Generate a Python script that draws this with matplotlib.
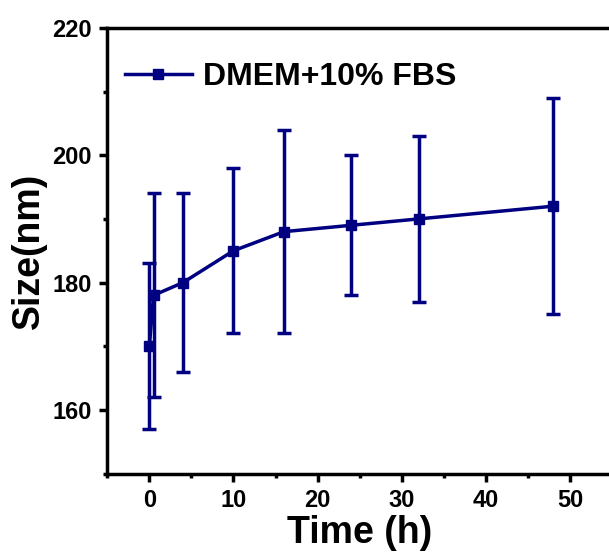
import matplotlib
matplotlib.use("Agg")
import matplotlib.pyplot as plt
from matplotlib.ticker import MultipleLocator

# data
time_h = [0, 0.5, 4, 10, 16, 24, 32, 48]
size_nm = [170, 178, 180, 185, 188, 189, 190, 192]
size_err = [13, 16, 14, 13, 16, 11, 13, 17]
series_label = "DMEM+10% FBS"

plt.rcParams['font.family'] = ['Liberation Sans', 'DejaVu Sans']
plt.rcParams['font.weight'] = 'bold'

W, H = 609, 556
fig = plt.figure(figsize=(W / 100, H / 100), dpi=100)
# axes runs a little past the right edge of the figure, as in the reference
left, right, top, bottom = 107.3, 612, 28, 473.5
ax = fig.add_axes([left / W, 1 - bottom / H, (right - left) / W, (bottom - top) / H])

navy = '#000080'
ax.errorbar(time_h, size_nm, yerr=size_err, fmt='none', ecolor=navy,
            capsize=5, capthick=2.5, elinewidth=2.5)
ax.plot(time_h, size_nm, color=navy, lw=2.5, marker='s', ms=7, label=series_label)

ax.set_xlim(-5, 55)
ax.set_ylim(150, 220)
ax.xaxis.set_major_locator(MultipleLocator(10))
ax.xaxis.set_minor_locator(MultipleLocator(5))
ax.yaxis.set_major_locator(MultipleLocator(20))
ax.yaxis.set_minor_locator(MultipleLocator(10))
ax.tick_params(which='major', direction='out', length=6, width=2.5, labelsize=17, pad=5)
ax.tick_params(which='minor', direction='out', length=3, width=2.5)
ax.tick_params(top=False, right=False)
for lab in ax.get_xticklabels() + ax.get_yticklabels():
    lab.set_fontweight('bold')
for s in ax.spines.values():
    s.set_linewidth(2.5)

ax.set_xlabel("Time (h)", fontsize=27, fontweight='bold', labelpad=2)
ax.set_ylabel("Size(nm)", fontsize=27, fontweight='bold', labelpad=4)

ax.legend(loc='upper left', bbox_to_anchor=(0.0, 0.962), frameon=False, handlelength=2.1,
          borderaxespad=0.15, handletextpad=0.35, prop={'weight': 'bold', 'size': 23})

fig.savefig("out.png", dpi=100)
